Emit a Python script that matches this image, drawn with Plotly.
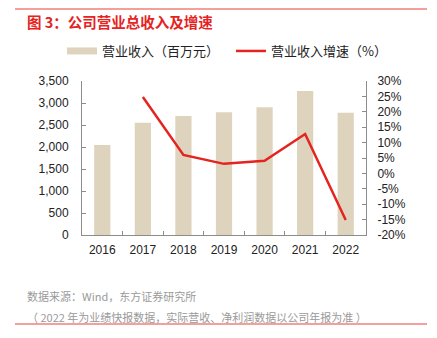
import plotly.graph_objects as go

# Company total revenue (million CNY) and YoY growth (%)
years = ["2016", "2017", "2018", "2019", "2020", "2021", "2022"]
revenue = [2045, 2552, 2705, 2788, 2902, 3273, 2780]
growth = [None, 24.8, 6.0, 3.1, 4.1, 12.8, -15.1]
pct_ticks = [-20, -15, -10, -5, 0, 5, 10, 15, 20, 25, 30]
pct_labels = [f"{v}%" for v in pct_ticks]

W, H = 437, 338
L, R, T, B = 82, 71, 81, 103
PW, PH = W - L - R, H - T - B


def fx(px):
    return (px - L) / PW


def fy(py):
    return (H - B - py) / PH


FONT = "Liberation Sans, Arial, Noto Sans CJK SC"
CJK = "Noto Sans CJK SC, Liberation Sans"
BEIGE = "#DED4BD"
RED = "#E5231F"
AXIS = "#8C8C8C"

fig = go.Figure()

fig.add_trace(go.Bar(
    x=years, y=revenue, name="营业收入（百万元）",
    marker=dict(color=BEIGE, line=dict(width=0)),
    width=0.4, showlegend=False, yaxis="y",
))
# legend swatch drawn as a thick band
fig.add_trace(go.Scatter(
    x=[None], y=[None], mode="lines", name="营业收入（百万元）",
    line=dict(color=BEIGE, width=7), yaxis="y", legend="legend",
))
fig.add_trace(go.Scatter(
    x=years, y=growth, mode="lines", name="营业收入增速（%）",
    line=dict(color=RED, width=2.5), yaxis="y2", legend="legend2",
))

legend_style = dict(
    orientation="h", xref="paper", yref="paper", xanchor="left", yanchor="middle",
    font=dict(family=CJK, size=13, color="#222"),
    bgcolor="rgba(0,0,0,0)", itemwidth=30,
)

fig.update_layout(
    width=W, height=H,
    margin=dict(l=L, r=R, t=T, b=B, pad=0, autoexpand=False),
    paper_bgcolor="white", plot_bgcolor="white",
    font=dict(family=FONT, size=12, color="#222"),
    xaxis=dict(
        type="category", showline=True, linecolor=AXIS, linewidth=1,
        ticks="inside", tickson="boundaries", ticklen=4, tickcolor=AXIS,
        showgrid=False, tickfont=dict(size=12, color="#222"),
        ticklabelstandoff=4,
    ),
    yaxis=dict(
        range=[0, 3500], dtick=500, tickformat=",",
        showline=True, linecolor=AXIS, linewidth=1,
        ticks="inside", ticklen=4, tickcolor=AXIS,
        showgrid=False, zeroline=False,
        tickfont=dict(size=12, color="#222"), ticklabelstandoff=10,
    ),
    yaxis2=dict(
        range=[-20, 30], tickvals=pct_ticks, ticktext=pct_labels,
        overlaying="y", side="right",
        showline=True, linecolor=AXIS, linewidth=1,
        ticks="inside", ticklen=4, tickcolor=AXIS,
        showgrid=False, zeroline=False,
        tickfont=dict(size=12, color="#222"), ticklabelstandoff=8,
    ),
    legend=dict(legend_style, x=fx(62), y=fy(51)),
    legend2=dict(legend_style, x=fx(231), y=fy(51)),
    showlegend=True,
)

# title and notes
fig.add_annotation(
    x=fx(25), y=fy(21), xref="paper", yref="paper", xanchor="left", yanchor="middle",
    text="<b>图 3：公司营业总收入及增速</b>", showarrow=False,
    font=dict(family=CJK, size=14.5, color=RED),
)
fig.add_annotation(
    x=fx(25), y=fy(296), xref="paper", yref="paper", xanchor="left", yanchor="middle",
    text="数据来源：Wind，东方证券研究所", showarrow=False,
    font=dict(family=CJK, size=11, color="#9a9a9a"),
)
fig.add_annotation(
    x=fx(25), y=fy(317), xref="paper", yref="paper", xanchor="left", yanchor="middle",
    text="（ 2022 年为业绩快报数据，实际营收、净利润数据以公司年报为准 ）", showarrow=False,
    font=dict(family=CJK, size=11, color="#9a9a9a"),
)

# red rules at top and bottom
for py in (9, 324):
    fig.add_shape(
        type="line", xref="paper", yref="paper",
        x0=fx(15), x1=fx(427), y0=fy(py), y1=fy(py),
        line=dict(color="#E8413A", width=1.2),
    )

fig.write_html("out.html")
